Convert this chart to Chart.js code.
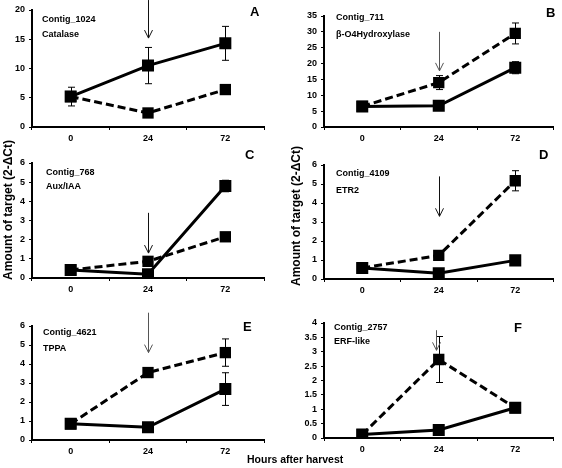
<!DOCTYPE html>
<html><head><meta charset="utf-8">
<script src="https://cdn.jsdelivr.net/npm/chart.js@4.4.1/dist/chart.umd.min.js"></script>
<style>
html,body{margin:0;padding:0;background:#fff;width:562px;height:468px;overflow:hidden;position:relative;font-family:"Liberation Sans",Arial,sans-serif;}
.p{position:absolute;}
canvas{display:block;}
#xt{position:absolute;left:247px;top:453px;font-weight:bold;font-size:10.5px;color:#000;white-space:nowrap;}
.yt{position:absolute;width:200px;height:14px;line-height:14px;text-align:center;font-weight:bold;font-size:12px;color:#000;white-space:nowrap;transform:rotate(-90deg);transform-origin:50% 50%;}
</style></head><body>
<div class="p" style="left:0;top:0"><canvas id="cA" width="281" height="150"></canvas></div>
<div class="p" style="left:281px;top:0"><canvas id="cB" width="281" height="150"></canvas></div>
<div class="p" style="left:0;top:150px"><canvas id="cC" width="281" height="150"></canvas></div>
<div class="p" style="left:281px;top:150px"><canvas id="cD" width="281" height="150"></canvas></div>
<div class="p" style="left:0;top:300px"><canvas id="cE" width="281" height="155"></canvas></div>
<div class="p" style="left:281px;top:300px"><canvas id="cF" width="281" height="155"></canvas></div>
<div class="yt" id="ytC" style="left:-92.5px;top:203px"></div>
<div class="yt" id="ytD" style="left:196px;top:209px"></div>
<div id="xt">Hours after harvest</div>
<script>
// ---- data ----
const hours = ['0', '24', '72'];

const aSolid = [5.2, 10.5, 14.3];
const aSolidErr = [1.6, 3.1, 2.9];
const aDashed = [5.2, 2.4, 6.4];
const aDashedErr = [0.4, 0.5, 0.3];

const bSolid = [6.5, 6.7, 18.7];
const bSolidErr = [0.5, 0.5, 1.9];
const bDashed = [6.5, 14.0, 29.5];
const bDashedErr = [0.5, 2.2, 3.3];

const cSolid = [0.42, 0.2, 4.8];
const cSolidErr = [0.05, 0.05, 0.3];
const cDashed = [0.42, 0.87, 2.15];
const cDashedErr = [0.05, 0.08, 0.1];

const dSolid = [0.58, 0.3, 0.98];
const dSolidErr = [0.05, 0.05, 0.08];
const dDashed = [0.58, 1.24, 5.17];
const dDashedErr = [0.05, 0.1, 0.53];

const eSolid = [0.85, 0.67, 2.68];
const eSolidErr = [0.05, 0.05, 0.86];
const eDashed = [0.85, 3.55, 4.6];
const eDashedErr = [0.05, 0.1, 0.72];

const fSolid = [0.12, 0.28, 1.05];
const fSolidErr = [0.02, 0.03, 0.05];
const fDashed = [0.12, 2.73, 1.05];
const fDashedErr = [0.02, 0.8, 0.05];

const contigNames = ['Contig_1024', 'Contig_711', 'Contig_768', 'Contig_4109', 'Contig_4621', 'Contig_2757'];
const geneNames = ['Catalase', 'β-O4Hydroxylase', 'Aux/IAA', 'ETR2', 'TPPA', 'ERF-like'];
const panelLetters = ['A', 'B', 'C', 'D', 'E', 'F'];
const yMaxes = [20, 35, 6, 6, 6, 4];
const ySteps = [5, 5, 1, 1, 1, 0.5];
const arrowTop = [21.7, 30, 3.4, 5.4, 6.7, 3.75];
const arrowTip = [15.2, 17.7, 1.3, 3.3, 4.6, 3.05];
const yTitle = 'Amount of target (2-ΔCt)';

document.getElementById('ytC').textContent = yTitle;
document.getElementById('ytD').textContent = yTitle;

// ---- layout / style ----
Chart.defaults.font.family = '"Liberation Sans", Arial, sans-serif';
Chart.defaults.font.weight = 'bold';
Chart.defaults.font.size = 9;
Chart.defaults.color = '#000';

const panels = [
  {id:'cA', s:aSolid, se:aSolidErr, d:aDashed, de:aDashedErr, yw:32, pad:{top:10,right:17,left:0,bottom:0}, xh:23,
   tx:10, t1:22, t2:37, lx:250, ly:16},
  {id:'cB', s:bSolid, se:bSolidErr, d:bDashed, de:bDashedErr, yw:43, pad:{top:16,right:5,left:0,bottom:0}, xh:23,
   tx:12, t1:20, t2:37, lx:265, ly:17},
  {id:'cC', s:cSolid, se:cSolidErr, d:cDashed, de:cDashedErr, yw:32, pad:{top:13,right:17,left:0,bottom:0}, xh:22,
   tx:14, t1:25, t2:39, lx:245, ly:9},
  {id:'cD', s:dSolid, se:dSolidErr, d:dDashed, de:dDashedErr, yw:43, pad:{top:15,right:5,left:0,bottom:0}, xh:21,
   tx:12, t1:26, t2:43, lx:258, ly:9},
  {id:'cE', s:eSolid, se:eSolidErr, d:eDashed, de:eDashedErr, yw:32, pad:{top:26,right:17,left:0,bottom:0}, xh:15,
   tx:11, t1:35, t2:51, lx:243, ly:31},
  {id:'cF', s:fSolid, se:fSolidErr, d:fDashed, de:fDashedErr, yw:43, pad:{top:23,right:5,left:0,bottom:0}, xh:17,
   tx:10, t1:30, t2:44, lx:233, ly:32},
];

function makePlugin(p, i) {
  return {
    id: 'panelDecor' + i,
    beforeDatasetsDraw(chart) {
      const ctx = chart.ctx, ys = chart.scales.y;
      const errs = [p.se, p.de];
      ctx.save();
      ctx.strokeStyle = '#000';
      ctx.lineWidth = 1;
      errs.forEach((err, di) => {
        const meta = chart.getDatasetMeta(di);
        const vals = chart.data.datasets[di].data;
        meta.data.forEach((pt, j) => {
          const x = Math.round(pt.x) + 0.5;
          const yt = ys.getPixelForValue(vals[j] + err[j]);
          const yb = ys.getPixelForValue(vals[j] - err[j]);
          ctx.beginPath();
          ctx.moveTo(x, yt); ctx.lineTo(x, yb);
          ctx.moveTo(x - 3.5, yt); ctx.lineTo(x + 3.5, yt);
          ctx.moveTo(x - 3.5, yb); ctx.lineTo(x + 3.5, yb);
          ctx.stroke();
        });
      });
      ctx.restore();
    },
    afterDatasetsDraw(chart) {
      const ctx = chart.ctx, xs = chart.scales.x, ys = chart.scales.y, ca = chart.chartArea;
      ctx.save();
      // arrow
      const ax = Math.round(xs.getPixelForValue(1)) + 0.5 - (i === 5 ? 3 : 0);
      const y1 = ys.getPixelForValue(arrowTop[i]);
      const y2 = ys.getPixelForValue(arrowTip[i]);
      ctx.strokeStyle = i === 0 || i === 2 || i === 3 ? '#111' : '#555';
      ctx.lineWidth = 1;
      ctx.beginPath();
      ctx.moveTo(ax, y1); ctx.lineTo(ax, y2);
      ctx.moveTo(ax - 4, y2 - 8); ctx.lineTo(ax, y2); ctx.lineTo(ax + 4, y2 - 8);
      ctx.stroke();
      // texts
      ctx.fillStyle = '#000';
      ctx.textBaseline = 'alphabetic';
      ctx.textAlign = 'left';
      ctx.font = 'bold 9px "Liberation Sans", Arial, sans-serif';
      ctx.fillText(contigNames[i], ca.left + p.tx, p.t1);
      ctx.fillText(geneNames[i], ca.left + p.tx, p.t2);
      ctx.font = 'bold 13px "Liberation Sans", Arial, sans-serif';
      ctx.fillText(panelLetters[i], p.lx, p.ly);
      ctx.restore();
    }
  };
}

panels.forEach((p, i) => {
  new Chart(document.getElementById(p.id), {
    type: 'line',
    data: {
      labels: hours,
      datasets: [
        {data: p.s, borderColor:'#000', backgroundColor:'#000', borderWidth:3,
         pointStyle:'rect', pointRadius:8.5, pointBackgroundColor:'#000', pointBorderColor:'#000', pointBorderWidth:0, tension:0},
        {data: p.d, borderColor:'#000', backgroundColor:'#000', borderWidth:3, borderDash:[8,4],
         pointStyle:'rect', pointRadius:8, pointBackgroundColor:'#000', pointBorderColor:'#000', pointBorderWidth:0, tension:0}
      ]
    },
    options: {
      responsive: false,
      animation: false,
      events: [],
      layout: {padding: p.pad},
      plugins: {legend:{display:false}, tooltip:{enabled:false}},
      scales: {
        x: {
          type: 'category',
          offset: true,
          grid: {display:true, drawOnChartArea:false, drawTicks:true, tickLength:3, color:'#000', lineWidth:1, offset:true},
          border: {display:true, color:'#000', width:2},
          ticks: {padding:3, color:'#000', maxRotation:0, font:{size:9, weight:'bold'}},
          afterFit(s) { s.height = p.xh; }
        },
        y: {
          min: 0, max: yMaxes[i],
          grid: {display:true, drawOnChartArea:false, drawTicks:true, tickLength:3, color:'#000', lineWidth:1},
          border: {display:true, color:'#000', width:2},
          ticks: {stepSize: ySteps[i], padding:4, color:'#000', font:{size:9, weight:'bold'},
                  callback: (v) => String(Number(v))},
          afterFit(s) { s.width = p.yw; }
        }
      }
    },
    plugins: [makePlugin(p, i)]
  });
});
</script>
</body></html>
